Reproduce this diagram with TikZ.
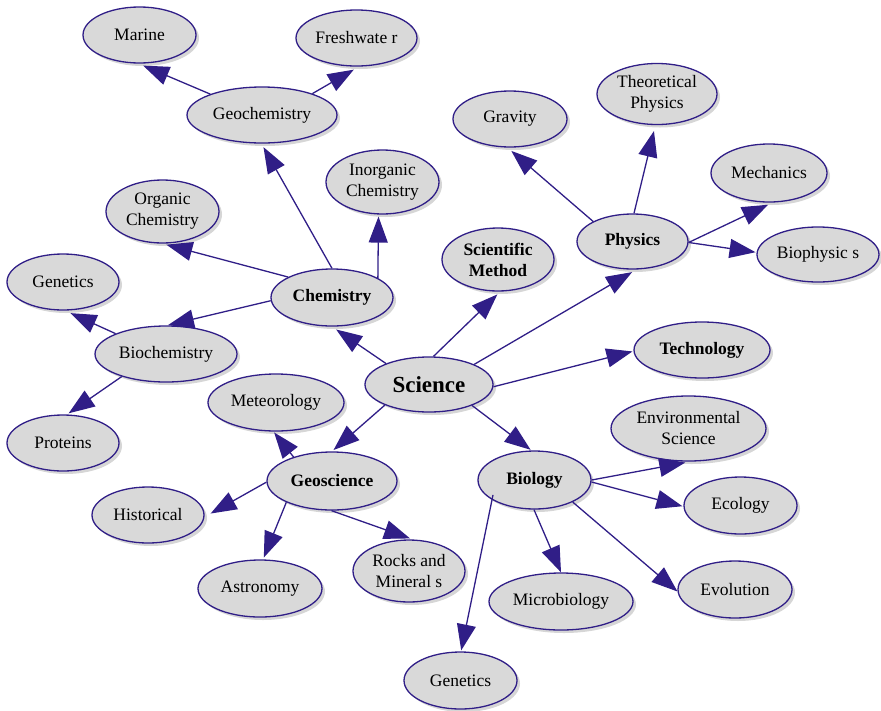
\documentclass[tikz,border=0pt]{standalone}
\usepackage{fontspec}
\setmainfont{Liberation Serif}
\usetikzlibrary{shapes.geometric,arrows.meta,shadows}
\definecolor{edgecol}{RGB}{48,30,135}
\definecolor{bubfill}{RGB}{217,217,217}
\begin{document}
\begin{tikzpicture}[x=1pt,y=-1pt,
  bub/.style 2 args={ellipse, draw=edgecol, line width=1.3pt, fill=bubfill,
    minimum width=#1pt, minimum height=#2pt, inner xsep=-4pt, inner ysep=0pt,
    align=center, font=\fontsize{17.5}{21}\selectfont,
    drop shadow={shadow xshift=3pt, shadow yshift=-3pt, fill=black!16, opacity=1}},
  bbf/.style={font=\fontsize{17.5}{21}\selectfont\bfseries},
  conn/.style={draw=edgecol, line width=1.3pt, -{Triangle[length=26pt,width=19pt]}, shorten >=1pt}
]
\useasboundingbox (0,0) rectangle (881,710);

% main
\node[bub={128}{55}, font=\fontsize{23}{27}\selectfont\bfseries] (sci) at (429,384.5) {Science};
\node[bub={112}{63}, bbf] (sm) at (498,259.5) {Scientific\\Method};
\node[bub={111}{55}, bbf] (phys) at (632.5,241.5) {Physics};
\node[bub={136}{56}, bbf] (tech) at (702,350) {Technology};
\node[bub={113}{58}, bbf] (bio) at (534.5,480) {Biology};
\node[bub={130}{58}, bbf] (geo) at (332,481) {Geoscience};
\node[bub={122}{57}, bbf] (chem) at (332,297.5) {Chemistry};

% chemistry branch
\node[bub={150}{56}] (gchem) at (262,115) {Geochemistry};
\node[bub={113}{56}] (marine) at (139.5,35) {Marine};
\node[bub={121}{56}] (fresh) at (356.5,38) {Freshwate r};
\node[bub={113}{64}] (inorg) at (382.5,182) {Inorganic\\Chemistry};
\node[bub={113}{63}] (org) at (162.5,211.5) {Organic\\Chemistry};
\node[bub={142}{56}] (bchem) at (166,354) {Biochemistry};
\node[bub={112}{56}] (gen1) at (63,282) {Genetics};
\node[bub={112}{56}] (prot) at (63,443) {Proteins};

% geoscience branch
\node[bub={136}{57}] (met) at (276,402.5) {Meteorology};
\node[bub={112}{56}] (hist) at (148,515) {Historical};
\node[bub={124}{57}] (astro) at (260,588.5) {Astronomy};
\node[bub={112}{62}] (rocks) at (409,571) {Rocks and\\Mineral s};

% biology branch
\node[bub={155}{65}] (env) at (688.5,428.5) {Environmental\\Science};
\node[bub={113}{57}] (eco) at (740.5,505.5) {Ecology};
\node[bub={114}{57}] (evol) at (735,589.5) {Evolution};
\node[bub={144}{57}] (micro) at (561,601.5) {Microbiology};
\node[bub={113}{57}] (gen2) at (460.5,680.5) {Genetics};

% physics branch
\node[bub={114}{56}] (grav) at (510,119) {Gravity};
\node[bub={120}{61}] (theo) at (657,94) {Theoretical\\Physics};
\node[bub={116}{58}] (mech) at (769,173) {Mechanics};
\node[bub={122}{55}] (bioph) at (818,254.5) {Biophysic s};

% edges from Science
\draw[conn, shorten >=4pt] (sci.81.7) -- (sm.-86.8);
\draw[conn, shorten >=5pt] (sci.24) -- (phys.-82.3);
\draw[conn] (sci.-2.9) -- (tech.-179.2);
\draw[conn] (sci.-26.1) -- (bio.96.7);
\draw[conn, shorten >=2pt] (sci.-155) -- (geo.90);
\draw[conn, shorten >=5pt] (sci.154.5) -- (chem.-90);

% chemistry
\draw[conn, shorten >=4pt] (chem.90) -- (gchem.-91.8);
\draw[conn, shorten >=2pt] (chem.23) -- (inorg.-97.5);
\draw[conn, shorten >=4pt] (chem.155.5) -- (org.-90.8);
\draw[conn] (chem.-177.7) -- (bchem.88);
\draw[conn, shorten >=5pt] (gchem.158.4) -- (marine.-92.6);
\draw[conn, shorten >=6pt] (gchem.23.3) -- (fresh.-85.8);
\draw[conn, shorten >=6pt] (bchem.158.6) -- (gen1.-86.6);
\draw[conn, shorten >=2pt] (bchem.-153) -- (prot.82.4);

% geoscience
\draw[conn] (geo.148) -- (met.-95.8);
\draw[conn, shorten >=7pt] (geo.181.8) -- (hist.-2.7);
\draw[conn, shorten >=2pt] (geo.205.6) -- (astro.84.4);
\draw[conn, shorten >=3pt] (geo.-91.8) -- (rocks.83.3);

% biology
\draw[conn, shorten >=5pt] (bio.-0.9) -- (env.-87.7);
\draw[conn] (bio.-2.8) -- (eco.181.5);
\draw[conn, shorten >=0pt] (bio.-30.9) -- (evol.182.5);
\draw[conn, shorten >=0pt] (bio.-91) -- (micro.90);
\draw[conn, shorten <=-5pt] (bio.205) -- (gen2.89);

% physics
\draw[conn, shorten >=5pt] (phys.153.1) -- (grav.-95.2);
\draw[conn, shorten >=6pt] (phys.87) -- (theo.-93);
\draw[conn, shorten >=5pt] (phys.-1.4) -- (mech.-83.3);
\draw[conn] (phys.-1.4) -- (bioph.178.6);
\end{tikzpicture}
\end{document}
